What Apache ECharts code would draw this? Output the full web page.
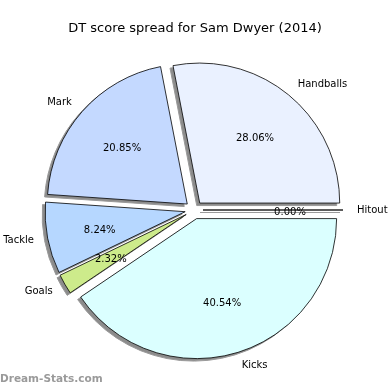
<!DOCTYPE html>
<html>
<head>
<meta charset="utf-8">
<script src="https://cdn.jsdelivr.net/npm/echarts@6/dist/echarts.min.js"></script>
<style>
html,body{margin:0;padding:0;background:#fff;}
#c{width:390px;height:390px;}
</style>
</head>
<body>
<div id="c"></div>
<script>
// DT points per category (Sam Dwyer 2014)
var categories = ['Hitout', 'Handballs', 'Mark', 'Tackle', 'Goals', 'Kicks'];
var values = [0, 436, 324, 128, 36, 630];
var colors = ['#ffffff', '#EAF1FF', '#C4D9FF', '#B6D7FF', '#CDEB8B', '#DBFFFF'];
var titleText = 'DT score spread for Sam Dwyer (2014)';
var watermark = 'Dream-Stats.com';

var total = values.reduce(function (a, b) { return a + b; }, 0);
var FONT = 'DejaVu Sans';
var R = 140, OFFSET = 9, CX = 194, CY = 210;

function pct(v) { return (v / total * 100).toFixed(2) + '%'; }

function makeData(withColor) {
  return categories.map(function (name, i) {
    var d = { name: name, value: values[i], selected: true };
    if (withColor) d.itemStyle = { color: colors[i] };
    return d;
  });
}

var common = {
  type: 'pie',
  startAngle: 0,
  clockwise: false,
  selectedMode: 'multiple',
  selectedOffset: OFFSET,
  avoidLabelOverlap: false,
  stillShowZeroSum: true,
  emphasis: { disabled: true }
};

var chart = echarts.init(document.getElementById('c'), null, { renderer: 'canvas' });
chart.setOption({
  animation: false,
  backgroundColor: '#ffffff',
  title: {
    text: titleText,
    left: 'center',
    top: 17,
    textStyle: { fontFamily: FONT, fontSize: 13, fontWeight: 'normal', color: '#000' }
  },
  graphic: [{
    type: 'text',
    left: 0,
    top: 374,
    style: { text: watermark, fontFamily: FONT, fontSize: 10.5, fontWeight: 'bold', fill: '#9a9a9a' }
  }],
  series: [
    // shadow layer
    Object.assign({}, common, {
      silent: true,
      center: [CX - 3, CY + 2.5],
      radius: [0, R],
      itemStyle: { color: '#8c8c8c', borderColor: '#9a9a9a', borderWidth: 1 },
      label: { show: false },
      labelLine: { show: false },
      data: makeData(false)
    }),
    // main pie with name labels
    Object.assign({}, common, {
      center: [CX, CY],
      radius: [0, R],
      itemStyle: { borderColor: '#000', borderWidth: 0.8 },
      label: {
        show: true,
        position: 'outside',
        formatter: '{b}',
        fontFamily: FONT,
        fontSize: 10,
        color: '#000',
        distanceToLabelLine: 0
      },
      labelLine: { show: false, length: 14, length2: 0 },
      data: makeData(true)
    }),
    // percentage labels at 0.6 R
    Object.assign({}, common, {
      silent: true,
      center: [CX, CY + 2],
      radius: [0, R * 1.2],
      itemStyle: { color: 'rgba(0,0,0,0)', borderWidth: 0 },
      label: {
        show: true,
        position: 'inside',
        formatter: function (p) { return pct(p.value); },
        fontFamily: FONT,
        fontSize: 10,
        color: '#000'
      },
      labelLine: { show: false },
      data: makeData(false)
    })
  ]
});
</script>
</body>
</html>
